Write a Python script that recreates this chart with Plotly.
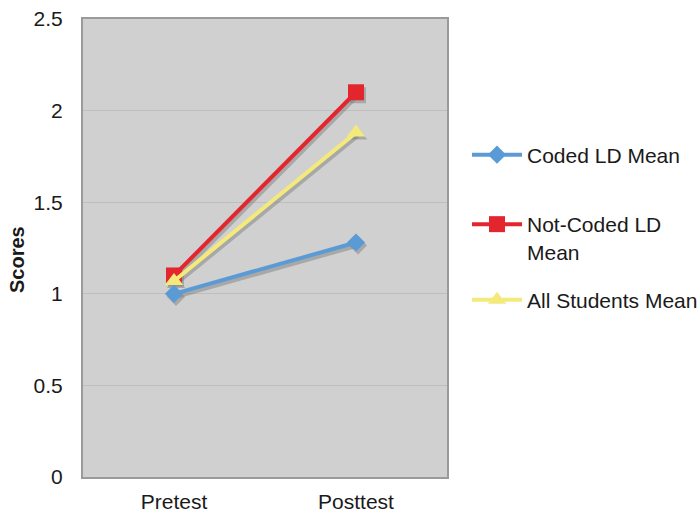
import plotly.graph_objects as go

# Test phases and mean scores per group
phases = ["Pretest", "Posttest"]
coded_ld = [1.00, 1.28]
not_coded_ld = [1.10, 2.10]
all_students = [1.07, 1.88]

series = [
    ("Coded LD Mean", coded_ld, "#5b9bd5", "diamond", 14, "legend"),
    ("Not-Coded LD<br>Mean", not_coded_ld, "#e3262d", "square", 16, "legend2"),
    ("All Students Mean", all_students, "#f4ea7c", "triangle-up", 16, "legend3"),
]

FONT = "Liberation Sans, Arial, Helvetica, sans-serif"
W, H = 700, 516
ML, MR, MT, MB = 83, 253, 19, 39
plot_w = W - ML - MR
plot_h = H - MT - MB

Y_RANGE = [0, 2.5]
X_RANGE = [-0.5, 1.5]

# pixel offset of the drop shadow under each line
sdx, sdy = 2, 3
x_per_px = (X_RANGE[1] - X_RANGE[0]) / plot_w
y_per_px = (Y_RANGE[1] - Y_RANGE[0]) / plot_h

fig = go.Figure()

# base subplot: carries grid and tick labels only
fig.add_trace(go.Scatter(x=phases, y=coded_ld, mode="none", showlegend=False,
                         hoverinfo="skip", xaxis="x", yaxis="y"))

# soft shadows, drawn on a slightly shifted overlay
for name, vals, color, sym, size, lg in series:
    fig.add_trace(go.Scatter(
        x=phases, y=vals, mode="lines+markers", showlegend=False, hoverinfo="skip",
        line=dict(color="rgba(120,120,120,0.45)", width=4),
        marker=dict(symbol=sym, size=size, color="rgba(120,120,120,0.45)"),
        xaxis="x2", yaxis="y2"))

# the data series themselves
for name, vals, color, sym, size, lg in series:
    fig.add_trace(go.Scatter(
        x=phases, y=vals, mode="lines+markers", name=name, legend=lg,
        line=dict(color=color, width=4),
        marker=dict(symbol=sym, size=size, color=color),
        xaxis="x3", yaxis="y3"))

hidden = dict(showgrid=False, showticklabels=False, zeroline=False, showline=False, ticks="")

legend_common = dict(
    xanchor="left", yanchor="middle", x=(467 - ML) / plot_w,
    font=dict(family=FONT, size=21, color="#1a1a1a"),
    bgcolor="rgba(0,0,0,0)", valign="top", itemwidth=50,
)

fig.update_layout(
    width=W, height=H,
    margin=dict(l=ML, r=MR, t=MT, b=MB, autoexpand=False),
    paper_bgcolor="white",
    plot_bgcolor="#d0d0d0",
    font=dict(family=FONT, size=20, color="#1a1a1a"),
    xaxis=dict(type="category", categoryarray=phases, range=X_RANGE,
               showgrid=False, zeroline=False, ticks="",
               showline=True, mirror=True, linecolor="#9a9a9a", linewidth=2,
               ticklabelstandoff=5, tickfont=dict(size=21)),
    yaxis=dict(range=Y_RANGE, dtick=0.5, tick0=0, showgrid=True, gridcolor="#bebebe",
               gridwidth=1, zeroline=False, ticks="",
               showline=True, mirror=True, linecolor="#9a9a9a", linewidth=2,
               ticklabelstandoff=14, tickfont=dict(size=21)),
    xaxis2=dict(type="category", categoryarray=phases, overlaying="x",
                range=[X_RANGE[0] - sdx * x_per_px, X_RANGE[1] - sdx * x_per_px], **hidden),
    yaxis2=dict(overlaying="y",
                range=[Y_RANGE[0] + sdy * y_per_px, Y_RANGE[1] + sdy * y_per_px], **hidden),
    xaxis3=dict(type="category", categoryarray=phases, overlaying="x", range=X_RANGE, **hidden),
    yaxis3=dict(overlaying="y", range=Y_RANGE, **hidden),
    legend=dict(y=(MT + plot_h - 155) / plot_h, **legend_common),
    legend2=dict(y=(MT + plot_h - 238) / plot_h, **legend_common),
    legend3=dict(y=(MT + plot_h - 300) / plot_h, **legend_common),
    annotations=[dict(
        text="<b>Scores</b>", textangle=-90, showarrow=False,
        xref="paper", yref="paper",
        x=(17 - ML) / plot_w, y=(MT + plot_h - 260) / plot_h,
        xanchor="center", yanchor="middle",
        font=dict(family=FONT, size=20, color="#1a1a1a"),
    )],
)

fig.write_html("out.html")
